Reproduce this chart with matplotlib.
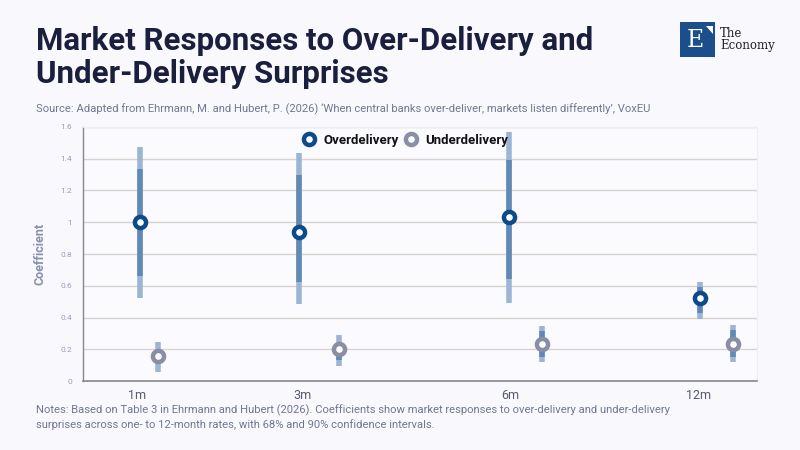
import numpy as np
import matplotlib.pyplot as plt
from matplotlib.lines import Line2D
from matplotlib.patches import Rectangle, Polygon

horizons = ['1m', '3m', '6m', '12m']
tick_pos = [0.32, 1.305, 2.534, 3.656]
x_over = [0.338, 1.282, 2.528, 3.662]
x_under = [0.445, 1.519, 2.724, 3.858]

over_coef = [1.00, 0.94, 1.036, 0.521]
over_lo68 = [0.664, 0.624, 0.643, 0.43]
over_hi68 = [1.337, 1.30, 1.393, 0.594]
over_lo90 = [0.525, 0.487, 0.49, 0.391]
over_hi90 = [1.475, 1.438, 1.57, 0.624]

under_coef = [0.158, 0.202, 0.233, 0.233]
under_lo68 = [0.125, 0.132, 0.153, 0.153]
under_hi68 = [0.19, 0.24, 0.317, 0.32]
under_lo90 = [0.059, 0.097, 0.122, 0.122]
under_hi90 = [0.248, 0.29, 0.347, 0.353]

BG = '#f8f8fd'
C_OVER = '#0d4a8a'
C_UNDER = '#8a8ea5'
C_68 = '#6189b4'
C_90 = '#9bb5d3'

plt.rcParams['font.family'] = ['Roboto', 'DejaVu Sans']

fig = plt.figure(figsize=(8, 4.5), dpi=100, facecolor=BG)
ax = fig.add_axes([0.104, 0.153, 0.842, 0.565])
ax.set_facecolor('#fafaff')

# 90% then 68% intervals
for xs, lo90, hi90, lo68, hi68 in [(x_over, over_lo90, over_hi90, over_lo68, over_hi68),
                                    (x_under, under_lo90, under_hi90, under_lo68, under_hi68)]:
    ax.vlines(xs, lo90, hi90, colors=C_90, lw=4, zorder=2)
    ax.vlines(xs, lo68, hi68, colors=C_68, lw=4, zorder=3)

ax.plot(x_over, over_coef, 'o', ls='none', ms=8, mew=3.2, mfc='white', mec=C_OVER, zorder=4)
ax.plot(x_under, under_coef, 'o', ls='none', ms=8, mew=3.2, mfc='white', mec=C_UNDER, zorder=4)

ax.set_xlim(0, 4)
ax.set_ylim(0, 1.6)
ax.set_yticks(np.arange(0, 1.61, 0.2))
ax.set_yticklabels(['0', '0.2', '0.4', '0.6', '0.8', '1', '1.2', '1.4', '1.6'])
ax.set_xticks(tick_pos)
ax.set_xticklabels(horizons)
ax.tick_params(axis='y', length=0, labelsize=6, labelcolor='#9aa0b8', pad=8)
ax.tick_params(axis='x', length=0, labelsize=9, labelcolor='#555a70', pad=6)
ax.grid(axis='y', color='#d8d4cc', lw=1)
ax.set_axisbelow(True)
for s in ['top', 'right']:
    ax.spines[s].set_color('#efefef')
    ax.spines[s].set_linewidth(0.8)
ax.spines['left'].set_color('#888')
ax.spines['bottom'].set_color('#888')
ax.spines['left'].set_linewidth(1)
ax.spines['bottom'].set_linewidth(1.2)
ax.set_ylabel('Coefficient', fontsize=9, color='#8a90a8', fontweight='bold', labelpad=10)

handles = [Line2D([], [], marker='o', ls='none', ms=8, mew=3.2, mfc='white', mec=C_OVER),
           Line2D([], [], marker='o', ls='none', ms=8, mew=3.2, mfc='white', mec=C_UNDER)]
leg = ax.legend(handles, ['Overdelivery', 'Underdelivery'], loc='upper center',
                bbox_to_anchor=(0.478, 1.02), ncol=2, frameon=False, handlelength=1.0,
                handletextpad=0.6, columnspacing=0.45, prop={'weight': 'bold', 'size': 9.5})
for t in leg.get_texts():
    t.set_color('#111111')

fig.text(0.045, 0.943, 'Market Responses to Over-Delivery and\nUnder-Delivery Surprises',
         fontsize=22.5, fontweight='bold', color='#1a1f3d', va='top', linespacing=1.15)
fig.text(0.045, 0.745, "Source: Adapted from Ehrmann, M. and Hubert, P. (2026) \u2018When central banks over-deliver, markets listen differently\u2019, VoxEU",
         fontsize=8.1, color='#707890', va='bottom')
fig.text(0.045, 0.045, 'Notes: Based on Table 3 in Ehrmann and Hubert (2026). Coefficients show market responses to over-delivery and under-delivery\nsurprises across one- to 12-month rates, with 68% and 90% confidence intervals.',
         fontsize=8.1, color='#707890', va='bottom', linespacing=1.3)

# logo
fig.patches.append(Rectangle((0.85, 0.873), 0.044, 0.078, transform=fig.transFigure,
                             facecolor='#1b4f8c', edgecolor='none'))
fig.patches.append(Polygon([(0.882, 0.943), (0.891, 0.943), (0.891, 0.925)], closed=True,
                           transform=fig.transFigure, facecolor='white', edgecolor='none'))
fig.text(0.869, 0.91, 'E', fontsize=17, color='white', family='DejaVu Serif',
         ha='center', va='center')
fig.text(0.9, 0.912, 'The\nEconomy', fontsize=8.5, color='#222', family='DejaVu Serif',
         va='center', linespacing=0.95)

fig.savefig('out.png', dpi=100, facecolor=BG)
